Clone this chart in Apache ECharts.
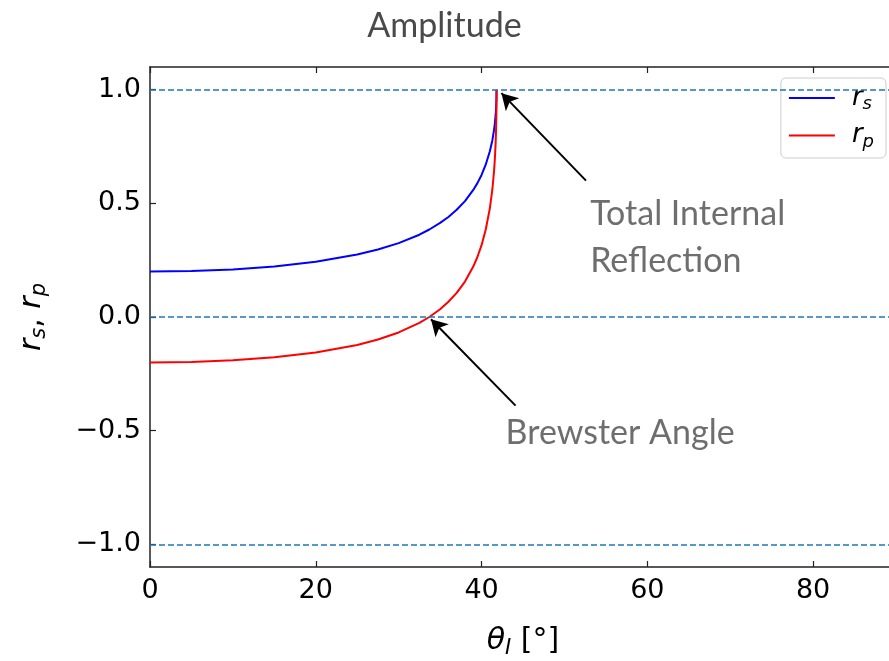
<!DOCTYPE html>
<html>
<head>
<meta charset="utf-8">
<script src="https://cdn.jsdelivr.net/npm/echarts@6.0.0/dist/echarts.min.js"></script>
<style>
  html, body { margin: 0; padding: 0; background: #fff; }
  #main { width: 889px; height: 661px; }
</style>
</head>
<body>
<div id="main"></div>
<script>
// incidence angle in degrees
var angles = [0, 5, 10, 15, 20, 25, 27.5, 30, 32.5, 33.7, 35, 36, 37, 38, 39, 39.5, 40, 40.5, 41, 41.3, 41.5, 41.6, 41.7, 41.75, 41.8, 41.81];
var rsValues = [0.200, 0.202, 0.209, 0.222, 0.243, 0.275, 0.297, 0.325, 0.362, 0.385, 0.414, 0.440, 0.472, 0.510, 0.559, 0.589, 0.625, 0.670, 0.729, 0.777, 0.822, 0.851, 0.889, 0.917, 0.964, 1.000];
var rpValues = [-0.200, -0.198, -0.190, -0.177, -0.156, -0.123, -0.099, -0.068, -0.026, 0.000, 0.034, 0.067, 0.106, 0.156, 0.222, 0.264, 0.316, 0.384, 0.478, 0.560, 0.639, 0.693, 0.767, 0.822, 0.922, 1.000];

var xTicks = [0, 20, 40, 60, 80];
var yTicks = [-1.0, -0.5, 0.0, 0.5, 1.0];
var refLines = [1, 0, -1];

// annotations: text, where it sits, arrow tail and tip
var tirText = 'Total Internal\nReflection';
var tirTextAt = [53.1, 0.35];
var tirArrow = [[52.6, 0.60], [42.4, 0.985]];
var brewsterText = 'Brewster Angle';
var brewsterTextAt = [42.9, -0.51];
var brewsterArrow = [[44.1, -0.39], [33.9, -0.01]];

var chart = echarts.init(document.getElementById('main'));

function zip(xs, ys) {
  return xs.map(function (x, i) { return [x, ys[i]]; });
}

var mathRich = {
  i: { fontFamily: 'DejaVu Sans', fontStyle: 'italic', fontSize: 30, color: '#000' },
  s: { fontFamily: 'DejaVu Sans', fontStyle: 'italic', fontSize: 21, color: '#000', padding: [15, 0, 0, 0] },
  n: { fontFamily: 'DejaVu Sans', fontSize: 30, color: '#000' }
};

var legendRich = {
  i: { fontFamily: 'DejaVu Sans', fontStyle: 'italic', fontSize: 26, color: '#000', padding: [0, 0, 0, 12] },
  s: { fontFamily: 'DejaVu Sans', fontStyle: 'italic', fontSize: 18, color: '#000', padding: [13, 0, 0, 0] }
};

var annoFont = { fontFamily: 'Lato', fontSize: 34, color: '#4a4a4a', lineHeight: 47 };

var axisColor = '#222';

var option = {
  animation: false,
  title: {
    text: 'Amplitude',
    left: 'center',
    top: 4,
    textStyle: { fontFamily: 'Lato', fontSize: 34, fontWeight: 'normal', color: '#4a4a4a' }
  },
  legend: {
    right: 3,
    top: 78,
    orient: 'vertical',
    icon: 'rect',
    itemWidth: 46,
    itemHeight: 2,
    itemGap: 9,
    padding: [7, 12, 7, 8],
    borderColor: '#cccccc',
    borderWidth: 1,
    borderRadius: 5,
    backgroundColor: 'rgba(255,255,255,0.8)',
    data: ['rs', 'rp'],
    formatter: function (name) {
      return '{i|r}{s|' + name.charAt(1) + '}';
    },
    textStyle: { rich: legendRich }
  },
  grid: { left: 150, right: -7, top: 67, bottom: 94, outerBoundsMode: 'none', containLabel: false },
  xAxis: [
    {
      type: 'value',
      min: 0,
      max: 90,
      position: 'bottom',
      name: '{i|θ}{s|I}{n| [°]}',
      nameLocation: 'middle',
      nameGap: 56,
      nameTextStyle: { rich: mathRich },
      axisLine: { onZero: false, lineStyle: { color: axisColor, width: 1.5 } },
      axisTick: { inside: true, length: 6, customValues: xTicks, lineStyle: { color: axisColor, width: 1.2 } },
      axisLabel: { customValues: xTicks, fontFamily: 'DejaVu Sans', fontSize: 27, color: '#000', margin: 10 },
      splitLine: { show: false }
    },
    {
      type: 'value',
      min: 0,
      max: 90,
      position: 'top',
      axisLine: { onZero: false, lineStyle: { color: axisColor, width: 1.5 } },
      axisTick: { inside: true, length: 6, customValues: xTicks, lineStyle: { color: axisColor, width: 1.2 } },
      axisLabel: { show: false },
      splitLine: { show: false }
    }
  ],
  yAxis: {
    type: 'value',
    min: -1.1,
    max: 1.1,
    name: '{i|r}{s|s}{n|, }{i|r}{s|p}',
    nameLocation: 'middle',
    nameRotate: 90,
    nameGap: 100,
    nameTextStyle: { rich: mathRich },
    axisLine: { show: true, onZero: false, lineStyle: { color: axisColor, width: 1.5 } },
    axisTick: { show: true, inside: true, length: 6, customValues: yTicks, lineStyle: { color: axisColor, width: 1.2 } },
    axisLabel: {
      customValues: yTicks,
      fontFamily: 'DejaVu Sans',
      fontSize: 27,
      color: '#000',
      margin: 9,
      formatter: function (v) { return v.toFixed(1).replace('-', '\u2212'); }
    },
    splitLine: { show: false }
  },
  series: [
    {
      name: 'rs',
      type: 'line',
      data: zip(angles, rsValues),
      showSymbol: false,
      lineStyle: { color: '#0000ff', width: 2 },
      itemStyle: { color: '#0000ff' },
      z: 3
    },
    {
      name: 'rp',
      type: 'line',
      data: zip(angles, rpValues),
      showSymbol: false,
      lineStyle: { color: '#ff0000', width: 2 },
      itemStyle: { color: '#ff0000' },
      z: 4
    },
    {
      name: 'ref',
      type: 'line',
      data: [],
      markLine: {
        silent: true,
        symbol: 'none',
        label: { show: false },
        lineStyle: { color: '#1f77b4', type: [6, 3], width: 1.6 },
        data: refLines.map(function (v) { return { yAxis: v }; })
      },
      z: 2
    },
    {
      name: 'arrows',
      type: 'line',
      data: [],
      markLine: {
        silent: true,
        symbol: ['none', 'arrow'],
        symbolSize: [14, 16],
        label: { show: false },
        lineStyle: { color: '#000', type: 'solid', width: 2 },
        data: [
          [{ coord: tirArrow[0] }, { coord: tirArrow[1] }],
          [{ coord: brewsterArrow[0] }, { coord: brewsterArrow[1] }]
        ]
      },
      z: 5
    },
    {
      name: 'labels',
      type: 'scatter',
      symbolSize: 0,
      data: [
        { value: tirTextAt, label: { formatter: tirText } },
        { value: brewsterTextAt, label: { formatter: brewsterText } }
      ],
      label: Object.assign({ show: true, position: 'right', distance: 0 }, annoFont),
      z: 5
    }
  ]
};

chart.setOption(option);
</script>
</body>
</html>
